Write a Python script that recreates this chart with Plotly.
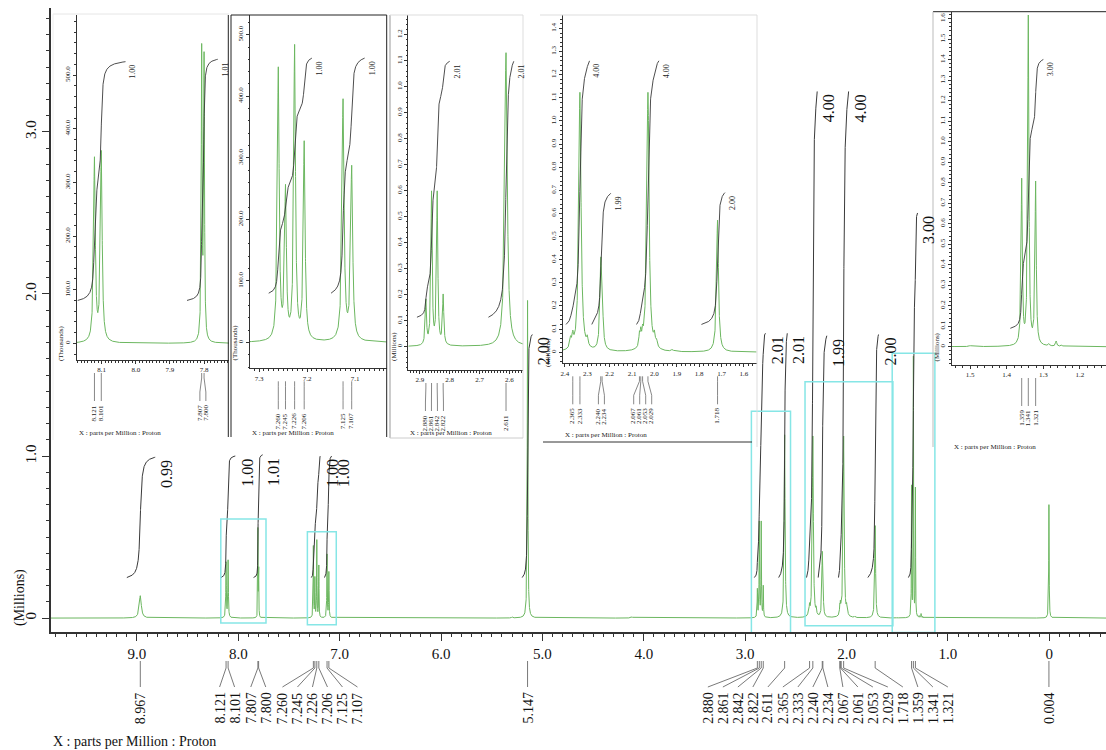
import numpy as np
import plotly.graph_objects as go

# ---------------- data ----------------
# peak list of the 1H spectrum: position (ppm), height (millions), half width (ppm)
peak_ppm = [8.967, 8.121, 8.101, 7.807, 7.800, 7.260, 7.245, 7.226, 7.206, 7.125, 7.107,
            5.300, 5.147, 4.950, 4.120,
            2.880, 2.861, 2.842, 2.822, 2.611, 2.375, 2.365, 2.333, 2.300,
            2.240, 2.234, 2.067, 2.061, 2.053, 2.029, 2.000, 1.990, 1.920,
            1.718, 1.500, 1.359, 1.341, 1.321, 1.285, 1.265, 1.250, 0.004]
peak_height = [0.138, 0.340, 0.352, 0.536, 0.520, 0.440, 0.240, 0.475, 0.320, 0.390, 0.280,
               0.006, 1.960, 0.004, 0.008,
               0.170, 0.585, 0.585, 0.190, 1.130, 0.040, 0.050, 1.120, 0.035,
               0.330, 0.200, 0.050, 0.055, 0.045, 1.120, 0.045, 0.025, 0.008,
               0.570, 0.005, 0.800, 1.600, 0.790, 0.010, 0.025, 0.008, 0.700]
peak_hwhm = [0.012, 0.003, 0.003, 0.0015, 0.0015, 0.0022, 0.0022, 0.0022, 0.0022, 0.0025, 0.0025,
             0.005, 0.0035, 0.005, 0.010,
             0.0025, 0.0025, 0.0025, 0.0025, 0.005, 0.004, 0.004, 0.006, 0.004,
             0.0045, 0.0045, 0.003, 0.003, 0.003, 0.006, 0.004, 0.004, 0.005,
             0.005, 0.003, 0.002, 0.002, 0.002, 0.002, 0.002, 0.002, 0.0025]

# peaks that carry a ppm label
labelled_ppm = [8.967, 8.121, 8.101, 7.807, 7.800, 7.260, 7.245, 7.226, 7.206, 7.125, 7.107,
                5.147, 2.880, 2.861, 2.842, 2.822, 2.611, 2.365, 2.333, 2.240, 2.234,
                2.067, 2.061, 2.053, 2.029, 1.718, 1.359, 1.341, 1.321, 0.004]

# integral regions (ppm) and values
integral_start = [9.10, 8.17, 7.85, 7.28, 7.15, 5.20, 2.91, 2.67, 2.395, 2.28, 2.08, 1.79, 1.39]
integral_end = [8.82, 8.03, 7.76, 7.19, 7.08, 5.10, 2.80, 2.585, 2.29, 2.195, 1.98, 1.685, 1.30]
integral_value = [0.99, 1.00, 1.01, 1.00, 1.00, 2.00, 2.01, 2.01, 4.00, 1.99, 4.00, 2.00, 3.00]

# tick labels
main_xticks = [9, 8, 7, 6, 5, 4, 3, 2, 1, 0]
main_xticktext = ['9.0', '8.0', '7.0', '6.0', '5.0', '4.0', '3.0', '2.0', '1.0', '0']
main_yticks = [0, 1, 2, 3]
main_yticktext = ['0', '1.0', '2.0', '3.0']
insetA_xticks = [8.1, 8.0, 7.9, 7.8]
insetB_xticks = [7.3, 7.2, 7.1]
insetC_xticks = [2.9, 2.8, 2.7, 2.6]
insetD_xticks = [2.4, 2.3, 2.2, 2.1, 2.0, 1.9, 1.8, 1.7, 1.6]
insetE_xticks = [1.5, 1.4, 1.3, 1.2]
thousand_yticks = [0, 100, 200, 300, 400, 500]
insetC_yticks = [0, 0.1, 0.2, 0.3, 0.4, 0.5, 0.6, 0.7, 0.8, 0.9, 1.0, 1.1, 1.2]
insetD_yticks = [0, 0.1, 0.2, 0.3, 0.4, 0.5, 0.6, 0.7, 0.8, 0.9, 1.0, 1.1, 1.2, 1.3, 1.4]
insetE_yticks = [0, 0.1, 0.2, 0.3, 0.4, 0.5, 0.6, 0.7, 0.8, 0.9, 1.0, 1.1, 1.2, 1.3, 1.4, 1.5, 1.6]

# ---------------- layout constants ----------------
GREEN = '#6cb760'
INTEG = '#3a3a3a'
CYAN = '#86e6e6'
LINEC = '#6a6a6a'
FONT = 'Liberation Serif'

W, H = 1106, 750
ML, MR, MT, MB = 51, 0, 8, 118
PW, PH = W - ML - MR, H - MT - MB
MAIN_X = (9.848, -0.559)
MAIN_Y = (-0.086, 3.765)
MAIN_IBASE, MAIN_IRISE = 0.25, 0.75

INSETS = [
    dict(box=(76.7, 229.0, 15.0, 360.0), xr=(8.173, 7.727), yr=(-31.0, 612.0), scale=1000.0,
         unit='(Thousands)', xt=insetA_xticks, yt=thousand_yticks, xminor=0.01, yminor=20,
         ibase=80.0, irise=445.0, xlab=433),
    dict(box=(250.0, 386.7, 15.0, 368.3), xr=(7.319, 7.034), yr=(-42.0, 532.0), scale=1000.0,
         unit='(Thousands)', xt=insetB_xticks, yt=thousand_yticks, xminor=0.01, yminor=20,
         ibase=80.0, irise=382.0, xlab=433),
    dict(box=(408.3, 523.3, 15.0, 370.0), xr=(2.939, 2.553), yr=(-0.09, 1.276), scale=1.0,
         unit='(Millions)', xt=insetC_xticks, yt=insetC_yticks, xminor=0.01, yminor=0.02,
         ibase=0.113, irise=0.49, xlab=433),
    dict(box=(562.7, 756.7, 15.0, 363.3), xr=(2.41, 1.543), yr=(-0.048, 1.458), scale=1.0,
         unit='(Millions)', xt=insetD_xticks, yt=insetD_yticks, xminor=0.02, yminor=0.02,
         ibase=0.12, irise=0.285, xlab=435),
    dict(box=(951.7, 1106.0, 11.7, 365.0), xr=(1.55, 1.129), yr=(-0.089, 1.634), scale=1.0,
         unit='(Millions)', xt=insetE_xticks, yt=insetE_yticks, xminor=0.02, yminor=0.02,
         ibase=0.09, irise=0.437, xlab=447),
]


def fx(px):
    return (px - ML) / PW


def fy(py):
    return (H - MB - py) / PH


pk = np.array(peak_ppm)
ph = np.array(peak_height)
pg = np.array(peak_hwhm)


def spectrum(x):
    x = np.asarray(x, dtype=float)[:, None]
    return (ph * pg ** 2 / ((x - pk) ** 2 + pg ** 2)).sum(axis=1)


def integral_curve(s, e, base, height, n=900):
    xs = np.linspace(s, e, n)
    ys = spectrum(xs)
    cum = np.concatenate([[0.0], np.cumsum(0.5 * (ys[1:] + ys[:-1]) * np.abs(np.diff(xs)))])
    return xs, base + height * cum / cum[-1]


def spread(pxs, gap):
    clusters = []
    for p in pxs:
        clusters.append([p])
        while len(clusters) > 1:
            a, b = clusters[-2], clusters[-1]
            a_end = np.mean(a) + (len(a) - 1) / 2 * gap
            b_start = np.mean(b) - (len(b) - 1) / 2 * gap
            if b_start - a_end < gap:
                clusters[-2:] = [a + b]
            else:
                break
    out = []
    for c in clusters:
        m, n = np.mean(c), len(c)
        out += [m + (i - (n - 1) / 2) * gap for i in range(n)]
    return out


def tfmt(v):
    return '0' if v == 0 else f'{v:.1f}'


fig = go.Figure()
shapes = []
annotations = []

# ---------------- main spectrum ----------------
xs = np.union1d(np.linspace(MAIN_X[1], MAIN_X[0], 21000), pk)
fig.add_trace(go.Scatter(x=xs, y=spectrum(xs), mode='lines', line=dict(color=GREEN, width=1),
                         hoverinfo='skip', showlegend=False))
for s, e, v in zip(integral_start, integral_end, integral_value):
    cx, cy = integral_curve(s, e, MAIN_IBASE, MAIN_IRISE * v)
    fig.add_trace(go.Scatter(x=cx, y=cy, mode='lines', line=dict(color=INTEG, width=1),
                             hoverinfo='skip', showlegend=False))
    annotations.append(dict(x=e, y=cy[-1], xref='x', yref='y', xanchor='left', yanchor='top',
                            xshift=1, yshift=-1, text=f'{v:.2f}', textangle=-90, showarrow=False,
                            font=dict(family=FONT, size=16, color='#111')))

# main peak labels with connector lines
main_scale = PW / (MAIN_X[0] - MAIN_X[1])
order = sorted(labelled_ppm, reverse=True)
pxs = [ML + (MAIN_X[0] - p) * main_scale for p in order]
for p, px, lx in zip(order, pxs, spread(pxs, 15)):
    dx = lx - px
    ln = dict(color=LINEC, width=0.9)
    shapes.append(dict(type='line', xref='x', yref='paper', xsizemode='pixel', xanchor=p,
                       x0=0, x1=0, y0=fy(661), y1=fy(668), line=ln))
    shapes.append(dict(type='line', xref='x', yref='paper', xsizemode='pixel', xanchor=p,
                       x0=0, x1=dx, y0=fy(668), y1=fy(687), line=ln))
    annotations.append(dict(x=p, xref='x', xshift=dx, y=fy(690), yref='paper', yanchor='top',
                            xanchor='center', text=f'{p:.3f}', textangle=-90, showarrow=False,
                            font=dict(family=FONT, size=14, color='#111')))

annotations.append(dict(x=fx(20), y=fy(598), xref='paper', yref='paper', text='(Millions)',
                        textangle=-90, showarrow=False, xanchor='center', yanchor='middle',
                        font=dict(family=FONT, size=14, color='#111')))
annotations.append(dict(x=fx(51), y=fy(741), xref='paper', yref='paper',
                        text='X : parts per Million : Proton', showarrow=False,
                        xanchor='left', yanchor='middle', font=dict(family=FONT, size=14, color='#111')))

layout_axes = dict(
    xaxis=dict(range=list(MAIN_X), domain=[0, 1], anchor='y', showline=True, linecolor='#333',
               linewidth=1.5, ticks='outside', ticklen=7, tickwidth=1.2, tickcolor='#333',
               tickmode='array', tickvals=main_xticks, ticktext=main_xticktext,
               tickfont=dict(family=FONT, size=15, color='#111'),
               minor=dict(ticks='outside', ticklen=3.5, tickcolor='#333', tickwidth=1,
                          tick0=0, dtick=0.1),
               showgrid=False, zeroline=False, automargin=False),
    yaxis=dict(range=list(MAIN_Y), domain=[0, 1], anchor='x', showline=True, linecolor='#333',
               linewidth=1.5, ticks='outside', ticklen=7, tickwidth=1.2, tickcolor='#333',
               tickmode='array', tickvals=main_yticks, ticktext=main_yticktext, tickangle=-90,
               tickfont=dict(family=FONT, size=15, color='#111'),
               minor=dict(ticks='outside', ticklen=3.5, tickcolor='#333', tickwidth=1,
                          tick0=0, dtick=0.1),
               showgrid=False, zeroline=False, automargin=False),
)

# ---------------- insets ----------------
for i, ins in enumerate(INSETS, start=2):
    xa, ya = f'x{i}', f'y{i}'
    left, right, top, bottom = ins['box']
    xr, yr, sc = ins['xr'], ins['yr'], ins['scale']
    small = dict(family=FONT, size=7, color='#222')
    layout_axes[f'xaxis{i}'] = dict(
        domain=[fx(left), fx(right)], range=list(xr), anchor=ya, showline=True, linecolor='#333',
        linewidth=1, ticks='outside', ticklen=3, tickwidth=1, tickcolor='#333', tickmode='array',
        tickvals=ins['xt'], ticktext=[f'{v:.1f}' for v in ins['xt']], tickfont=small,
        minor=dict(ticks='outside', ticklen=1.5, tickcolor='#333', tick0=0, dtick=ins['xminor']),
        showgrid=False, zeroline=False, automargin=False)
    layout_axes[f'yaxis{i}'] = dict(
        domain=[fy(bottom), fy(top)], range=list(yr), anchor=xa, showline=True, linecolor='#333',
        linewidth=1, ticks='outside', ticklen=3, tickwidth=1, tickcolor='#333', tickmode='array',
        tickvals=ins['yt'], ticktext=[tfmt(v) for v in ins['yt']], tickangle=-90, tickfont=small,
        minor=dict(ticks='outside', ticklen=1.5, tickcolor='#333', tick0=0, dtick=ins['yminor']),
        showgrid=False, zeroline=False, automargin=False)

    inside = (pk <= xr[0]) & (pk >= xr[1])
    gx = np.union1d(np.linspace(xr[1], xr[0], 4000), pk[inside])
    fig.add_trace(go.Scatter(x=gx, y=spectrum(gx) * sc, mode='lines', xaxis=xa, yaxis=ya,
                             line=dict(color=GREEN, width=1), hoverinfo='skip', showlegend=False))
    for s, e, v in zip(integral_start, integral_end, integral_value):
        if s <= xr[0] and e >= xr[1]:
            cx, cy = integral_curve(s, e, ins['ibase'], ins['irise'] * v)
            fig.add_trace(go.Scatter(x=cx, y=cy, mode='lines', xaxis=xa, yaxis=ya,
                                     line=dict(color=INTEG, width=0.9), hoverinfo='skip',
                                     showlegend=False))
            annotations.append(dict(x=e, y=cy[-1], xref=xa, yref=ya, xanchor='left', yanchor='top',
                                    xshift=1, yshift=-1, text=f'{v:.2f}', textangle=-90,
                                    showarrow=False, font=dict(family=FONT, size=8, color='#222')))

    # inset peak labels
    iscale = (right - left) / (xr[0] - xr[1])
    iorder = [p for p in sorted(labelled_ppm, reverse=True) if xr[1] <= p <= xr[0]]
    ipx = [left + (xr[0] - p) * iscale for p in iorder]
    for p, px, lx in zip(iorder, ipx, spread(ipx, 6)):
        dx = lx - px
        ln = dict(color=LINEC, width=0.8)
        shapes.append(dict(type='line', xref=xa, yref='paper', xsizemode='pixel', xanchor=p,
                           x0=0, x1=0, y0=fy(bottom + 13), y1=fy(bottom + 18), line=ln))
        shapes.append(dict(type='line', xref=xa, yref='paper', xsizemode='pixel', xanchor=p,
                           x0=0, x1=dx, y0=fy(bottom + 18), y1=fy(bottom + 32), line=ln))
        shapes.append(dict(type='line', xref=xa, yref='paper', xsizemode='pixel', xanchor=p,
                           x0=dx, x1=dx, y0=fy(bottom + 32), y1=fy(bottom + 41), line=ln))
        annotations.append(dict(x=p, xref=xa, xshift=dx, y=fy(bottom + 43), yref='paper',
                                yanchor='top', xanchor='center', text=f'{p:.3f}', textangle=-90,
                                showarrow=False, font=small))
    annotations.append(dict(x=fx(left - 15), y=0, xref='paper', yref=ya, text=ins['unit'],
                            textangle=-90, showarrow=False, xanchor='center', yanchor='middle',
                            font=small))
    annotations.append(dict(x=fx(left), y=fy(ins['xlab']), xref='paper', yref='paper',
                            text='X : parts per Million : Proton', showarrow=False,
                            xanchor='left', yanchor='middle', font=small))
    # cyan zoom box on the main spectrum
    shapes.append(dict(type='rect', xref='x', yref='y', x0=xr[0], x1=xr[1], y0=yr[0] / sc,
                       y1=yr[1] / sc, line=dict(color=CYAN, width=1.5),
                       fillcolor='rgba(0,0,0,0)', layer='above'))


# ---------------- inset frames ----------------
def pline(x0, y0, x1, y1, color, width=1):
    shapes.append(dict(type='line', xref='paper', yref='paper', x0=fx(x0), y0=fy(y0),
                       x1=fx(x1), y1=fy(y1), line=dict(color=color, width=width)))


pline(53, 14, 229, 14, '#e6e6e6')
pline(53, 14, 53, 440, '#eeeeee')
pline(228.3, 15, 228.3, 437, '#222')
pline(231, 15, 231, 437, '#222')
pline(231, 15, 386.7, 15, '#222')
pline(386.7, 15, 386.7, 437, '#222')
pline(390, 15, 390, 438, '#999')
pline(390, 15, 523, 15, '#dddddd')
pline(523, 15, 523, 438, '#dddddd')
pline(390, 438, 523, 438, '#cccccc')
pline(540, 15, 757, 15, '#dddddd')
pline(757, 15, 757, 447, '#dddddd')
pline(543, 442, 752, 442, '#333')
pline(933, 11.7, 1106, 11.7, '#222')
pline(933, 11.7, 933, 447, '#bbbbbb')

fig.update_layout(
    template='none', width=W, height=H, showlegend=False,
    margin=dict(l=ML, r=MR, t=MT, b=MB, pad=0),
    paper_bgcolor='white', plot_bgcolor='white',
    font=dict(family=FONT, color='#111'),
    shapes=shapes, annotations=annotations, **layout_axes)

fig.write_html('out.html', config={'displayModeBar': False},
               post_script="document.body.style.margin='0px';")
